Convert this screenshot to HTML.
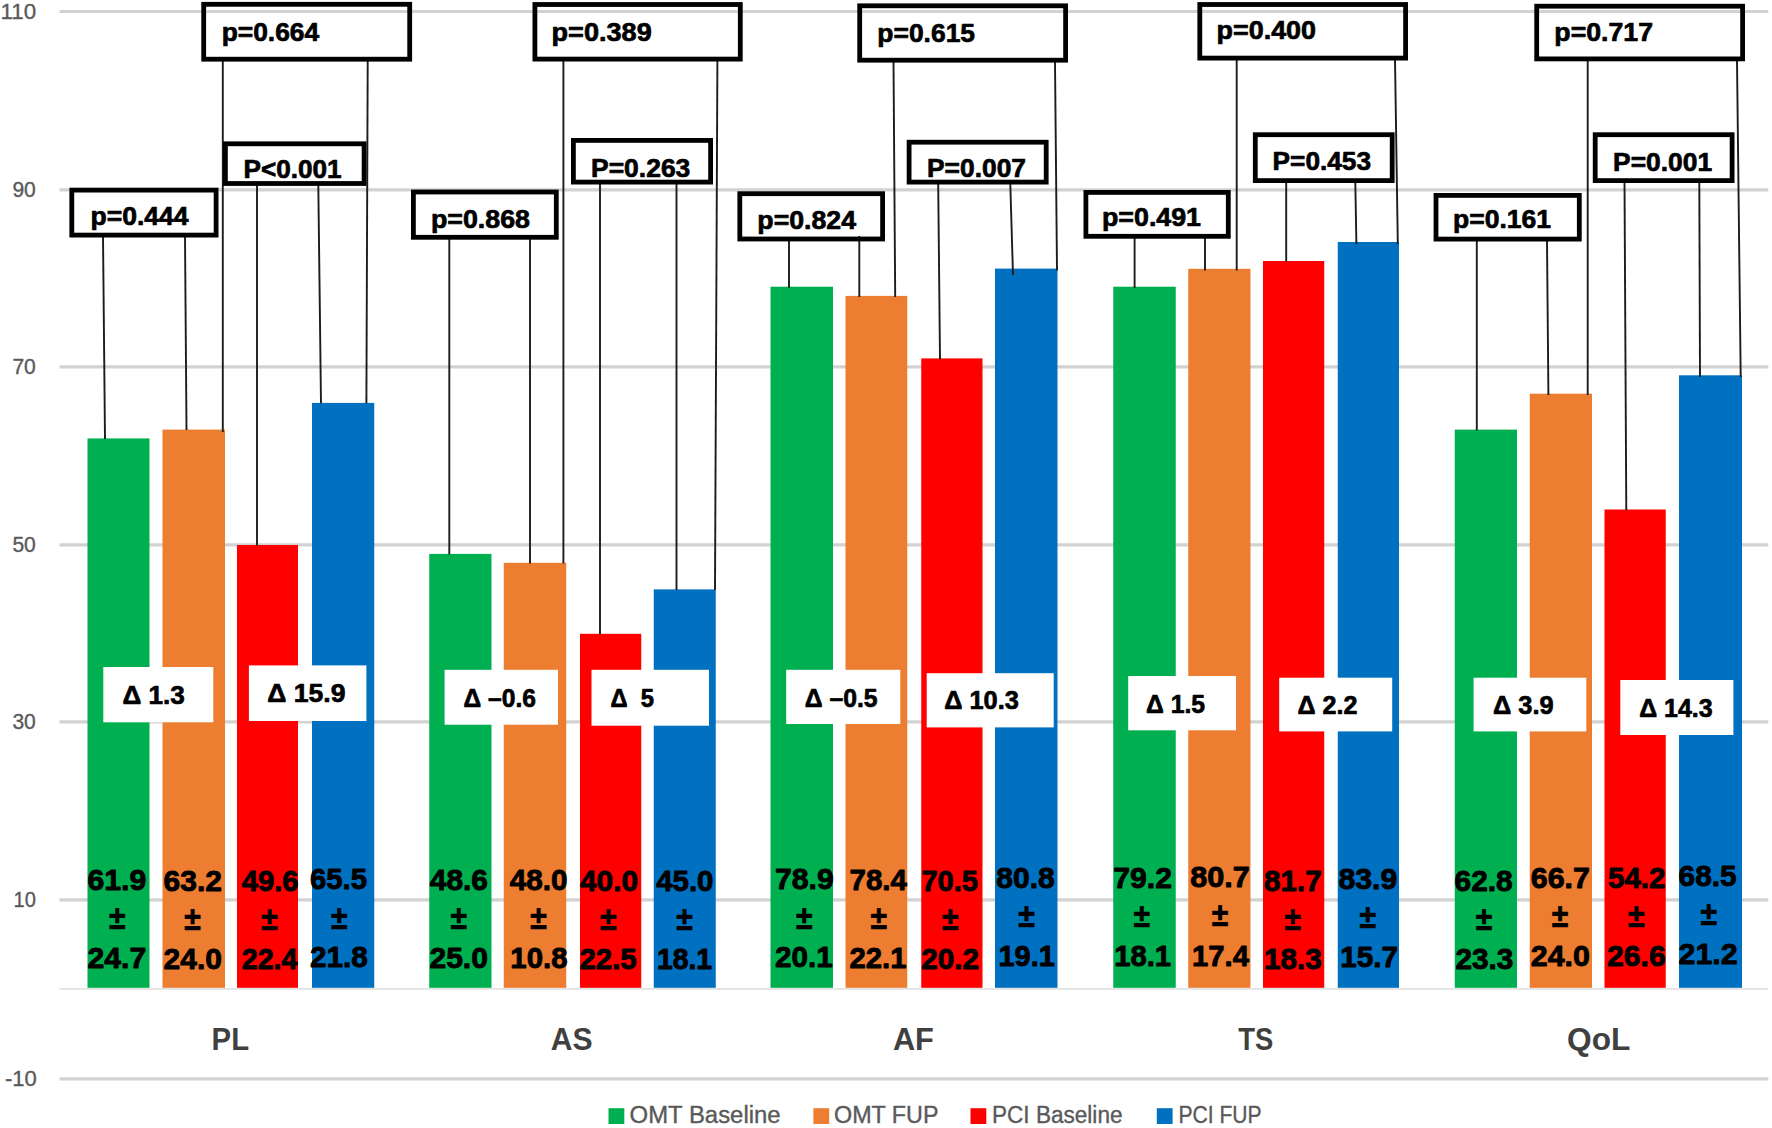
<!DOCTYPE html>
<html lang="en">
<head>
<meta charset="utf-8">
<title>Chart</title>
<style>
html,body{margin:0;padding:0;background:#fff;}
body{width:1772px;height:1128px;overflow:hidden;}
svg{display:block;font-family:"Liberation Sans", sans-serif;}
.b{font-weight:bold;fill:#000;stroke:#000;stroke-width:0.7px;stroke-linejoin:round;}
.v{stroke-width:0.9px;}
.ax,.lg{fill:#595959;stroke:#595959;stroke-width:0.35px;}
.cat{font-weight:bold;fill:#404040;}
</style>
</head>
<body>
<svg width="1772" height="1128" viewBox="0 0 1772 1128">
<rect x="0" y="0" width="1772" height="1128" fill="#ffffff"/>
<g stroke="#d2d2d2" stroke-width="3.2">
<line x1="59.5" x2="1768.3" y1="11.5" y2="11.5"/>
<line x1="59.5" x2="1768.3" y1="189.8" y2="189.8"/>
<line x1="59.5" x2="1768.3" y1="366.8" y2="366.8"/>
<line x1="59.5" x2="1768.3" y1="544.9" y2="544.9"/>
<line x1="59.5" x2="1768.3" y1="721.9" y2="721.9"/>
<line x1="59.5" x2="1768.3" y1="899.9" y2="899.9"/>
<line x1="59.5" x2="1768.3" y1="1078.9" y2="1078.9"/>
</g>
<line x1="59.5" x2="1768.3" y1="988.9" y2="988.9" stroke="#e2e2e2" stroke-width="1.8"/>
<text class="ax" x="0.47" y="18.5" font-size="21.5" textLength="35.59" lengthAdjust="spacingAndGlyphs">110</text>
<text class="ax" x="12.40" y="196.8" font-size="21.5" textLength="23.44" lengthAdjust="spacingAndGlyphs">90</text>
<text class="ax" x="12.40" y="373.8" font-size="21.5" textLength="23.44" lengthAdjust="spacingAndGlyphs">70</text>
<text class="ax" x="12.40" y="551.9" font-size="21.5" textLength="23.44" lengthAdjust="spacingAndGlyphs">50</text>
<text class="ax" x="12.40" y="728.9" font-size="21.5" textLength="23.44" lengthAdjust="spacingAndGlyphs">30</text>
<text class="ax" x="13.47" y="906.9" font-size="21.5" textLength="22.34" lengthAdjust="spacingAndGlyphs">10</text>
<text class="ax" x="5.00" y="1085.9" font-size="21.5" textLength="31.86" lengthAdjust="spacingAndGlyphs">-10</text>
<rect x="87.5" y="438.4" width="62.0" height="549.4" fill="#00B050"/>
<rect x="162.5" y="429.6" width="62.5" height="558.2" fill="#ED7D31"/>
<rect x="237" y="545.0" width="61" height="442.8" fill="#FF0000"/>
<rect x="312" y="402.9" width="62.25" height="584.9" fill="#0070C0"/>
<rect x="429.25" y="553.9" width="62.25" height="433.9" fill="#00B050"/>
<rect x="503.75" y="562.8" width="62.5" height="425.0" fill="#ED7D31"/>
<rect x="580" y="633.8" width="61.25" height="354.0" fill="#FF0000"/>
<rect x="653.75" y="589.4" width="62.0" height="398.4" fill="#0070C0"/>
<rect x="770.5" y="286.7" width="62.5" height="701.1" fill="#00B050"/>
<rect x="845.5" y="295.9" width="61.75" height="691.9" fill="#ED7D31"/>
<rect x="921.25" y="358.4" width="61.25" height="629.4" fill="#FF0000"/>
<rect x="995" y="268.6" width="62.5" height="719.2" fill="#0070C0"/>
<rect x="1113.25" y="286.7" width="62.5" height="701.1" fill="#00B050"/>
<rect x="1188.25" y="268.8" width="62.25" height="719.0" fill="#ED7D31"/>
<rect x="1263" y="261.0" width="61.25" height="726.8" fill="#FF0000"/>
<rect x="1337.75" y="242.0" width="61.25" height="745.8" fill="#0070C0"/>
<rect x="1454.75" y="429.6" width="62.25" height="558.2" fill="#00B050"/>
<rect x="1529.75" y="393.7" width="62.25" height="594.1" fill="#ED7D31"/>
<rect x="1604.5" y="509.5" width="61.25" height="478.3" fill="#FF0000"/>
<rect x="1679" y="375.3" width="63" height="612.5" fill="#0070C0"/>
<g stroke="#1c1c1c" stroke-width="1.9">
<line x1="103" y1="236" x2="105" y2="439"/>
<line x1="185" y1="236" x2="186.5" y2="430"/>
<line x1="222.8" y1="61" x2="222.8" y2="432"/>
<line x1="367.7" y1="61" x2="366.4" y2="403.5"/>
<line x1="257" y1="185" x2="257" y2="546"/>
<line x1="318.3" y1="185" x2="321" y2="403.5"/>
<line x1="449.3" y1="239" x2="449.3" y2="554.5"/>
<line x1="530" y1="239" x2="530" y2="563.5"/>
<line x1="563.4" y1="61" x2="563.4" y2="563.5"/>
<line x1="717.4" y1="61" x2="715" y2="590"/>
<line x1="600" y1="184" x2="600" y2="634.5"/>
<line x1="676.5" y1="184" x2="676.5" y2="590"/>
<line x1="789" y1="241" x2="789" y2="288"/>
<line x1="859.3" y1="236" x2="859.3" y2="297"/>
<line x1="893.5" y1="62" x2="895.2" y2="297"/>
<line x1="1055" y1="62" x2="1057" y2="270.5"/>
<line x1="938.2" y1="184" x2="940" y2="359.5"/>
<line x1="1010.3" y1="184" x2="1013" y2="275"/>
<line x1="1134.6" y1="238" x2="1134.6" y2="288"/>
<line x1="1205" y1="238" x2="1205" y2="270.5"/>
<line x1="1236.7" y1="59" x2="1236.7" y2="270.5"/>
<line x1="1395" y1="59" x2="1397.8" y2="244"/>
<line x1="1286.2" y1="182" x2="1286.2" y2="262"/>
<line x1="1355.3" y1="182" x2="1356.4" y2="244"/>
<line x1="1476.8" y1="241" x2="1476.8" y2="430.5"/>
<line x1="1547" y1="241" x2="1548.4" y2="395"/>
<line x1="1587.7" y1="60" x2="1587.7" y2="395"/>
<line x1="1737" y1="60" x2="1740.7" y2="377"/>
<line x1="1624.5" y1="182" x2="1626.3" y2="510.5"/>
<line x1="1699.3" y1="182" x2="1700" y2="377"/>
</g>
<g fill="none" stroke="#000" stroke-width="4.8">
<rect x="203.7" y="4.3" width="206.0" height="54.9"/>
<rect x="225.4" y="143.8" width="138.7" height="39.7"/>
<rect x="71.8" y="190.1" width="144.3" height="45.0"/>
<rect x="413.4" y="192.0" width="142.9" height="45.3"/>
<rect x="534.9" y="4.5" width="205.4" height="54.6"/>
<rect x="573.4" y="140.4" width="137.2" height="41.7"/>
<rect x="739.8" y="193.7" width="142.8" height="45.3"/>
<rect x="859.7" y="5.8" width="205.9" height="54.4"/>
<rect x="909.1" y="142.2" width="137.1" height="39.9"/>
<rect x="1085.9" y="192.4" width="142.4" height="43.9"/>
<rect x="1199.8" y="4.5" width="205.8" height="53.6"/>
<rect x="1255.3" y="134.7" width="136.9" height="45.9"/>
<rect x="1436.0" y="195.4" width="143.3" height="43.7"/>
<rect x="1536.7" y="6.2" width="205.9" height="52.7"/>
<rect x="1595.2" y="134.7" width="136.9" height="45.9"/>
</g>
<text class="b" x="221.70" y="40.9" font-size="26.5" textLength="97.52" lengthAdjust="spacingAndGlyphs">p=0.664</text>
<text class="b" x="243.50" y="178.3" font-size="26.5" textLength="98.13" lengthAdjust="spacingAndGlyphs">P&lt;0.001</text>
<text class="b" x="90.59" y="224.6" font-size="26.5" textLength="98.03" lengthAdjust="spacingAndGlyphs">p=0.444</text>
<text class="b" x="430.99" y="228.0" font-size="26.5" textLength="99.01" lengthAdjust="spacingAndGlyphs">p=0.868</text>
<text class="b" x="551.59" y="40.9" font-size="26.5" textLength="100.12" lengthAdjust="spacingAndGlyphs">p=0.389</text>
<text class="b" x="591.00" y="176.7" font-size="26.5" textLength="99.32" lengthAdjust="spacingAndGlyphs">P=0.263</text>
<text class="b" x="757.39" y="229.2" font-size="26.5" textLength="98.61" lengthAdjust="spacingAndGlyphs">p=0.824</text>
<text class="b" x="877.32" y="42.3" font-size="26.5" textLength="97.72" lengthAdjust="spacingAndGlyphs">p=0.615</text>
<text class="b" x="927.00" y="176.7" font-size="26.5" textLength="99.00" lengthAdjust="spacingAndGlyphs">P=0.007</text>
<text class="b" x="1101.99" y="225.6" font-size="26.5" textLength="99.02" lengthAdjust="spacingAndGlyphs">p=0.491</text>
<text class="b" x="1216.58" y="39.0" font-size="26.5" textLength="99.42" lengthAdjust="spacingAndGlyphs">p=0.400</text>
<text class="b" x="1272.59" y="169.5" font-size="26.5" textLength="98.44" lengthAdjust="spacingAndGlyphs">P=0.453</text>
<text class="b" x="1453.01" y="228.0" font-size="26.5" textLength="98.02" lengthAdjust="spacingAndGlyphs">p=0.161</text>
<text class="b" x="1554.37" y="40.5" font-size="26.5" textLength="98.63" lengthAdjust="spacingAndGlyphs">p=0.717</text>
<text class="b" x="1613.10" y="170.6" font-size="26.5" textLength="99.00" lengthAdjust="spacingAndGlyphs">P=0.001</text>
<g fill="#fff">
<rect x="103.3" y="667.0" width="110.0" height="55.3"/>
<rect x="248.9" y="665.4" width="117.5" height="55.6"/>
<rect x="444.6" y="669.8" width="113.4" height="54.9"/>
<rect x="591.5" y="669.8" width="117.5" height="55.9"/>
<rect x="786.2" y="669.8" width="114.1" height="54.2"/>
<rect x="926.7" y="673.2" width="127.0" height="54.2"/>
<rect x="1128.2" y="676.0" width="107.8" height="54.3"/>
<rect x="1279.2" y="677.7" width="113.0" height="53.7"/>
<rect x="1473.6" y="677.7" width="112.7" height="53.7"/>
<rect x="1620.3" y="680.0" width="113.1" height="55.0"/>
</g>
<text class="b" x="122.57" y="703.7" font-size="26" textLength="62.34" lengthAdjust="spacingAndGlyphs" xml:space="preserve" style="white-space:pre">Δ 1.3</text>
<text class="b" x="267.18" y="702.0" font-size="26" textLength="78.25" lengthAdjust="spacingAndGlyphs" xml:space="preserve" style="white-space:pre">Δ 15.9</text>
<text class="b" x="463.57" y="706.7" font-size="26" textLength="72.44" lengthAdjust="spacingAndGlyphs" xml:space="preserve" style="white-space:pre">Δ –0.6</text>
<text class="b" x="610.45" y="706.7" font-size="26" textLength="43.55" lengthAdjust="spacingAndGlyphs" xml:space="preserve" style="white-space:pre">Δ  5</text>
<text class="b" x="804.80" y="706.7" font-size="26" textLength="72.81" lengthAdjust="spacingAndGlyphs" xml:space="preserve" style="white-space:pre">Δ –0.5</text>
<text class="b" x="944.28" y="709.4" font-size="26" textLength="74.54" lengthAdjust="spacingAndGlyphs" xml:space="preserve" style="white-space:pre">Δ 10.3</text>
<text class="b" x="1146.02" y="712.6" font-size="26" textLength="59.10" lengthAdjust="spacingAndGlyphs" xml:space="preserve" style="white-space:pre">Δ 1.5</text>
<text class="b" x="1297.47" y="713.8" font-size="26" textLength="59.95" lengthAdjust="spacingAndGlyphs" xml:space="preserve" style="white-space:pre">Δ 2.2</text>
<text class="b" x="1493.00" y="713.8" font-size="26" textLength="60.64" lengthAdjust="spacingAndGlyphs" xml:space="preserve" style="white-space:pre">Δ 3.9</text>
<text class="b" x="1639.24" y="717.0" font-size="26" textLength="73.42" lengthAdjust="spacingAndGlyphs" xml:space="preserve" style="white-space:pre">Δ 14.3</text>
<text class="b v" x="87.45" y="889.8" font-size="30" textLength="58.79" lengthAdjust="spacingAndGlyphs">61.9</text>
<text class="b" transform="translate(117.2 929.0) scale(0.9 1)" font-size="33.5" text-anchor="middle">±</text>
<text class="b v" x="87.46" y="967.7" font-size="30" textLength="58.76" lengthAdjust="spacingAndGlyphs">24.7</text>
<text class="b v" x="163.57" y="890.6" font-size="30" textLength="58.36" lengthAdjust="spacingAndGlyphs">63.2</text>
<text class="b" transform="translate(192.6 929.8) scale(0.9 1)" font-size="33.5" text-anchor="middle">±</text>
<text class="b v" x="163.56" y="968.5" font-size="30" textLength="58.36" lengthAdjust="spacingAndGlyphs">24.0</text>
<text class="b v" x="241.66" y="890.6" font-size="30" textLength="56.89" lengthAdjust="spacingAndGlyphs">49.6</text>
<text class="b" transform="translate(269.6 929.8) scale(0.9 1)" font-size="33.5" text-anchor="middle">±</text>
<text class="b v" x="241.69" y="968.5" font-size="30" textLength="55.84" lengthAdjust="spacingAndGlyphs">22.4</text>
<text class="b v" x="310.02" y="889.3" font-size="30" textLength="56.98" lengthAdjust="spacingAndGlyphs">65.5</text>
<text class="b" transform="translate(339.4 928.5) scale(0.9 1)" font-size="33.5" text-anchor="middle">±</text>
<text class="b v" x="310.02" y="967.2" font-size="30" textLength="57.80" lengthAdjust="spacingAndGlyphs">21.8</text>
<text class="b v" x="429.79" y="889.8" font-size="30" textLength="58.10" lengthAdjust="spacingAndGlyphs">48.6</text>
<text class="b" transform="translate(458.9 929.0) scale(0.9 1)" font-size="33.5" text-anchor="middle">±</text>
<text class="b v" x="429.45" y="967.7" font-size="30" textLength="58.46" lengthAdjust="spacingAndGlyphs">25.0</text>
<text class="b v" x="509.67" y="889.8" font-size="30" textLength="57.74" lengthAdjust="spacingAndGlyphs">48.0</text>
<text class="b" transform="translate(538.5 929.0) scale(0.9 1)" font-size="33.5" text-anchor="middle">±</text>
<text class="b v" x="510.36" y="967.7" font-size="30" textLength="57.08" lengthAdjust="spacingAndGlyphs">10.8</text>
<text class="b v" x="580.00" y="890.6" font-size="30" textLength="57.98" lengthAdjust="spacingAndGlyphs">40.0</text>
<text class="b" transform="translate(608.3 929.8) scale(0.9 1)" font-size="33.5" text-anchor="middle">±</text>
<text class="b v" x="579.49" y="968.5" font-size="30" textLength="57.23" lengthAdjust="spacingAndGlyphs">22.5</text>
<text class="b v" x="656.18" y="890.6" font-size="30" textLength="57.33" lengthAdjust="spacingAndGlyphs">45.0</text>
<text class="b" transform="translate(684.6 929.8) scale(0.9 1)" font-size="33.5" text-anchor="middle">±</text>
<text class="b v" x="656.90" y="968.5" font-size="30" textLength="55.12" lengthAdjust="spacingAndGlyphs">18.1</text>
<text class="b v" x="775.00" y="889.3" font-size="30" textLength="58.74" lengthAdjust="spacingAndGlyphs">78.9</text>
<text class="b" transform="translate(804.3 928.5) scale(0.9 1)" font-size="33.5" text-anchor="middle">±</text>
<text class="b v" x="775.02" y="967.1" font-size="30" textLength="57.71" lengthAdjust="spacingAndGlyphs">20.1</text>
<text class="b v" x="849.49" y="889.8" font-size="30" textLength="57.44" lengthAdjust="spacingAndGlyphs">78.4</text>
<text class="b" transform="translate(878.8 929.0) scale(0.9 1)" font-size="33.5" text-anchor="middle">±</text>
<text class="b v" x="849.48" y="967.7" font-size="30" textLength="56.94" lengthAdjust="spacingAndGlyphs">22.1</text>
<text class="b v" x="921.38" y="891.0" font-size="30" textLength="56.63" lengthAdjust="spacingAndGlyphs">70.5</text>
<text class="b" transform="translate(950.4 930.2) scale(0.9 1)" font-size="33.5" text-anchor="middle">±</text>
<text class="b v" x="921.36" y="969.3" font-size="30" textLength="57.64" lengthAdjust="spacingAndGlyphs">20.2</text>
<text class="b v" x="996.27" y="887.6" font-size="30" textLength="58.52" lengthAdjust="spacingAndGlyphs">80.8</text>
<text class="b" transform="translate(1026.6 926.8) scale(0.9 1)" font-size="33.5" text-anchor="middle">±</text>
<text class="b v" x="998.48" y="966.0" font-size="30" textLength="56.35" lengthAdjust="spacingAndGlyphs">19.1</text>
<text class="b v" x="1113.26" y="888.1" font-size="30" textLength="58.74" lengthAdjust="spacingAndGlyphs">79.2</text>
<text class="b" transform="translate(1141.9 927.3) scale(0.9 1)" font-size="33.5" text-anchor="middle">±</text>
<text class="b v" x="1114.20" y="966.0" font-size="30" textLength="56.82" lengthAdjust="spacingAndGlyphs">18.1</text>
<text class="b v" x="1190.26" y="887.2" font-size="30" textLength="59.64" lengthAdjust="spacingAndGlyphs">80.7</text>
<text class="b" transform="translate(1220.1 926.4) scale(0.9 1)" font-size="33.5" text-anchor="middle">±</text>
<text class="b v" x="1192.03" y="965.5" font-size="30" textLength="56.90" lengthAdjust="spacingAndGlyphs">17.4</text>
<text class="b v" x="1264.07" y="890.6" font-size="30" textLength="57.74" lengthAdjust="spacingAndGlyphs">81.7</text>
<text class="b" transform="translate(1292.9 929.8) scale(0.9 1)" font-size="33.5" text-anchor="middle">±</text>
<text class="b v" x="1264.00" y="968.5" font-size="30" textLength="57.83" lengthAdjust="spacingAndGlyphs">18.3</text>
<text class="b v" x="1338.45" y="888.6" font-size="30" textLength="58.79" lengthAdjust="spacingAndGlyphs">83.9</text>
<text class="b" transform="translate(1367.9 927.8) scale(0.9 1)" font-size="33.5" text-anchor="middle">±</text>
<text class="b v" x="1340.17" y="966.8" font-size="30" textLength="57.83" lengthAdjust="spacingAndGlyphs">15.7</text>
<text class="b v" x="1454.57" y="890.6" font-size="30" textLength="58.15" lengthAdjust="spacingAndGlyphs">62.8</text>
<text class="b" transform="translate(1484.1 929.8) scale(0.9 1)" font-size="33.5" text-anchor="middle">±</text>
<text class="b v" x="1455.45" y="968.5" font-size="30" textLength="57.90" lengthAdjust="spacingAndGlyphs">23.3</text>
<text class="b v" x="1530.78" y="887.6" font-size="30" textLength="59.13" lengthAdjust="spacingAndGlyphs">66.7</text>
<text class="b" transform="translate(1560.1 926.8) scale(0.9 1)" font-size="33.5" text-anchor="middle">±</text>
<text class="b v" x="1530.77" y="966.0" font-size="30" textLength="59.15" lengthAdjust="spacingAndGlyphs">24.0</text>
<text class="b v" x="1608.01" y="887.6" font-size="30" textLength="57.42" lengthAdjust="spacingAndGlyphs">54.2</text>
<text class="b" transform="translate(1636.3 926.8) scale(0.9 1)" font-size="33.5" text-anchor="middle">±</text>
<text class="b v" x="1607.00" y="966.0" font-size="30" textLength="58.74" lengthAdjust="spacingAndGlyphs">26.6</text>
<text class="b v" x="1678.59" y="885.9" font-size="30" textLength="58.02" lengthAdjust="spacingAndGlyphs">68.5</text>
<text class="b" transform="translate(1708.7 925.1) scale(0.9 1)" font-size="33.5" text-anchor="middle">±</text>
<text class="b v" x="1678.54" y="963.8" font-size="30" textLength="59.11" lengthAdjust="spacingAndGlyphs">21.2</text>
<text class="cat" x="211.60" y="1049.7" font-size="31" textLength="37.43" lengthAdjust="spacingAndGlyphs">PL</text>
<text class="cat" x="550.75" y="1049.7" font-size="31" textLength="41.83" lengthAdjust="spacingAndGlyphs">AS</text>
<text class="cat" x="892.88" y="1049.7" font-size="31" textLength="40.98" lengthAdjust="spacingAndGlyphs">AF</text>
<text class="cat" x="1238.27" y="1049.7" font-size="31" textLength="35.03" lengthAdjust="spacingAndGlyphs">TS</text>
<text class="cat" x="1567.00" y="1049.7" font-size="31" textLength="63.34" lengthAdjust="spacingAndGlyphs">QoL</text>
<rect x="608.5" y="1108.2" width="15.8" height="15.8" fill="#00B050"/>
<text class="lg" x="629.58" y="1122.5" font-size="23" textLength="151.03" lengthAdjust="spacingAndGlyphs">OMT Baseline</text>
<rect x="813.4" y="1108.2" width="15.8" height="15.8" fill="#ED7D31"/>
<text class="lg" x="834.00" y="1122.5" font-size="23" textLength="104.52" lengthAdjust="spacingAndGlyphs">OMT FUP</text>
<rect x="970.5" y="1108.2" width="15.8" height="15.8" fill="#FF0000"/>
<text class="lg" x="992.00" y="1122.5" font-size="23" textLength="130.51" lengthAdjust="spacingAndGlyphs">PCI Baseline</text>
<rect x="1156.8" y="1108.2" width="15.8" height="15.8" fill="#0070C0"/>
<text class="lg" x="1178.40" y="1122.5" font-size="23" textLength="83.22" lengthAdjust="spacingAndGlyphs">PCI FUP</text>
</svg>
</body>
</html>
